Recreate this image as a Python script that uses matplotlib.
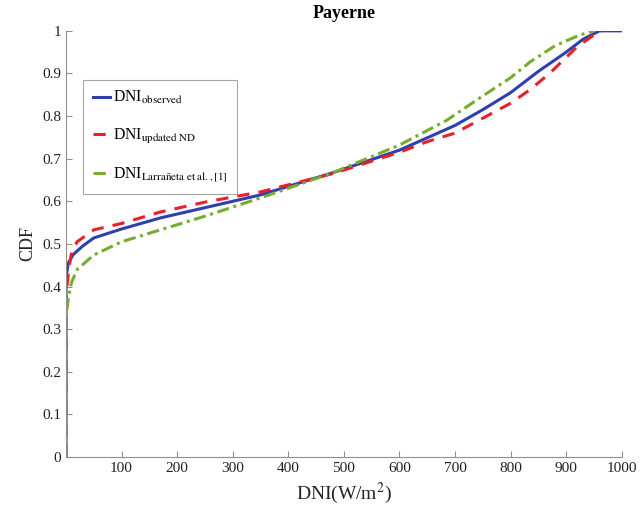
import matplotlib
matplotlib.use('Agg')
import matplotlib.pyplot as plt

plt.rcParams['font.family'] = ['Liberation Serif', 'DejaVu Serif']
plt.rcParams['mathtext.fontset'] = 'stix'

dni_obs = [0, 0, 4, 13, 30, 50, 100, 170, 250, 350, 480, 600, 700, 750, 800, 850, 900, 930, 960, 1000]
cdf_obs = [0, 0.42, 0.455, 0.475, 0.495, 0.514, 0.535, 0.561, 0.585, 0.615, 0.667, 0.72, 0.778, 0.815, 0.855, 0.905, 0.95, 0.98, 1.0, 1.0]

dni_nd = [0, 0, 5, 10, 20, 50, 100, 170, 250, 350, 480, 600, 650, 700, 757, 800, 835, 870, 920, 955, 965]
cdf_nd = [0, 0.38, 0.44, 0.48, 0.505, 0.533, 0.548, 0.575, 0.598, 0.622, 0.665, 0.715, 0.74, 0.76, 0.80, 0.83, 0.862, 0.90, 0.963, 0.995, 1.0]

dni_lar = [0, 0, 5, 10, 20, 50, 100, 170, 250, 350, 480, 600, 685, 745, 800, 835, 880, 924, 950]
cdf_lar = [0, 0.33, 0.38, 0.41, 0.44, 0.474, 0.505, 0.533, 0.565, 0.608, 0.667, 0.732, 0.79, 0.843, 0.89, 0.927, 0.965, 0.99, 1.0]

x_ticks = [100, 200, 300, 400, 500, 600, 700, 800, 900, 1000]
y_ticks = [0, 0.1, 0.2, 0.3, 0.4, 0.5, 0.6, 0.7, 0.8, 0.9, 1]
y_labels = ['0', '0.1', '0.2', '0.3', '0.4', '0.5', '0.6', '0.7', '0.8', '0.9', '1']

fig = plt.figure(figsize=(6.41, 5.14), dpi=100)
ax = fig.add_axes([0.103, 0.111, 0.867, 0.829])

ax.plot(dni_obs, cdf_obs, color='#2f3fae', linewidth=2.2, label=r'DNI$_{\mathrm{observed}}$')
ax.plot(dni_nd, cdf_nd, color='#e8202a', linewidth=2.2, linestyle=(0, (4, 3)), label=r'DNI$_{\mathrm{updated\ ND}}$')
ax.plot(dni_lar, cdf_lar, color='#77ac30', linewidth=2.2, linestyle=(0, (4, 1.5, 1, 1.5)),
        label=r'DNI$_{\mathrm{Larrañeta\ et\ al.,[1]}}$')

ax.set_xlim(0, 1000)
ax.set_ylim(0, 1)
ax.set_xticks(x_ticks)
ax.set_yticks(y_ticks)
ax.set_yticklabels(y_labels)
ax.spines['top'].set_visible(False)
ax.spines['right'].set_visible(False)
for s in ['left', 'bottom']:
    ax.spines[s].set_color('#909090')
ax.tick_params(direction='in', length=4, color='#909090', labelsize=11, labelcolor='#222222')

ax.set_title('Payerne', fontsize=13, fontweight='bold', pad=9)
ax.set_xlabel(r'DNI(W/m$^2$)', fontsize=14, color='#222222')
ax.set_ylabel('CDF', fontsize=13, color='#222222')

leg = ax.legend(loc='upper left', bbox_to_anchor=(0.031, 0.885), borderaxespad=0, fontsize=11.3,
                handlelength=1.1, handletextpad=0.2, labelspacing=1.3, fancybox=False, borderpad=0.6)
leg.get_frame().set_edgecolor('#909090')
leg.get_frame().set_linewidth(0.8)

fig.savefig('out.png', dpi=100)
